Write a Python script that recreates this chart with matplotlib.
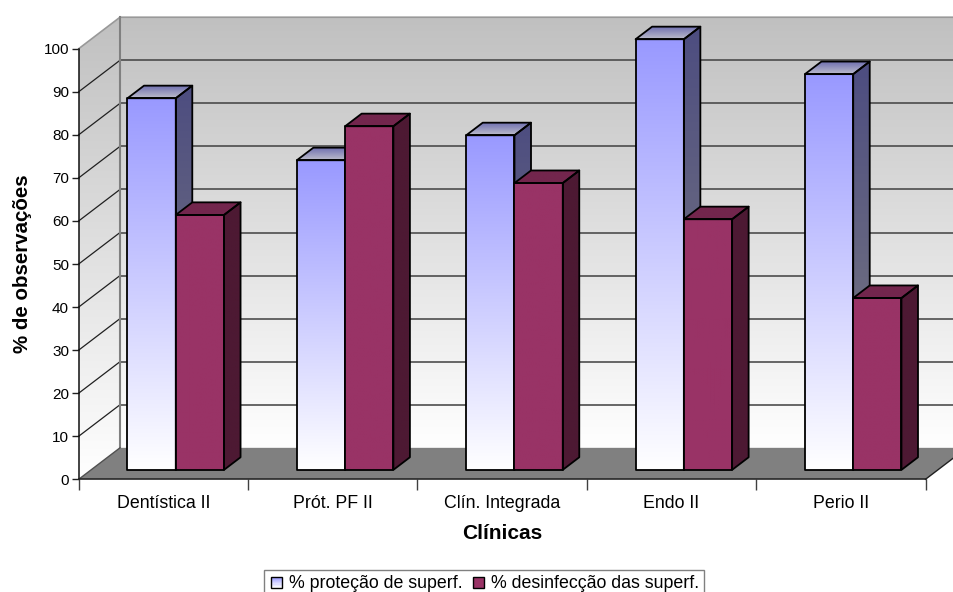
#!/usr/bin/env python3
# coding=utf-8

import numpy as np
from matplotlib import pyplot as plt
from matplotlib.colors import LinearSegmentedColormap
from matplotlib.legend_handler import HandlerPatch
from matplotlib.patches import Patch, Polygon, Rectangle

clinicas = ["Dentística II", "Prót. PF II", "Clín. Integrada", "Endo II", "Perio II"]
protecao = [86.3, 71.9, 77.7, 100.0, 91.9]
desinfeccao = [59.2, 79.8, 66.6, 58.2, 39.9]
nomes_series = ["% proteção de superf.", "% desinfecção das superf."]
y_ticks = list(range(0, 101, 10))

# Oblique projection: how far the back wall sits from the front plane, in data units
DEPTH_X = 0.2438
DEPTH_Y = 7.31
BAR_WIDTH = 0.285
BAR_START = 0.215
BAR_FRONT = 0.3
BAR_BACK = 0.7

plt.rcParams["font.family"] = ["Liberation Sans", "DejaVu Sans"]

WIDTH, HEIGHT = 954, 592


def project(x, y, depth):
    return x + depth * DEPTH_X, y + depth * DEPTH_Y


def gradient_face(ax, points, top, bottom, zorder):
    """Fill a polygon with a vertical gradient, clipped to the polygon."""
    xs = [p[0] for p in points]
    ys = [p[1] for p in points]
    cmap = LinearSegmentedColormap.from_list("face", [bottom, top])
    im = ax.imshow(np.linspace(1, 0, 256).reshape(-1, 1), cmap=cmap, vmin=0, vmax=1,
                   extent=(min(xs), max(xs), min(ys), max(ys)), aspect="auto",
                   interpolation="bilinear", zorder=zorder)
    clip = Polygon(points, closed=True, transform=ax.transData)
    im.set_clip_box(ax.figure.bbox)
    im.set_clip_path(clip)


def draw_bar(ax, x, value, colors, zorder):
    x0, x1 = x, x + BAR_WIDTH
    front = [project(x0, 0, BAR_FRONT), project(x1, 0, BAR_FRONT),
             project(x1, value, BAR_FRONT), project(x0, value, BAR_FRONT)]
    side = [project(x1, 0, BAR_FRONT), project(x1, 0, BAR_BACK),
            project(x1, value, BAR_BACK), project(x1, value, BAR_FRONT)]
    top = [project(x0, value, BAR_FRONT), project(x1, value, BAR_FRONT),
           project(x1, value, BAR_BACK), project(x0, value, BAR_BACK)]
    gradient_face(ax, front, colors["front"][0], colors["front"][1], zorder)
    gradient_face(ax, side, colors["side"][0], colors["side"][1], zorder)
    gradient_face(ax, top, colors["top"][0], colors["top"][1], zorder)
    for face in (front, side, top):
        ax.add_patch(Polygon(face, closed=True, facecolor="none", edgecolor="black",
                             linewidth=1.3, joinstyle="round", clip_on=False, zorder=zorder))


class GradientHandler(HandlerPatch):
    """Legend key drawn as stacked strips so the gradient shows in the swatch."""

    def create_artists(self, legend, orig_handle, xdescent, ydescent, width, height, fontsize, trans):
        size = height * 0.9
        x0 = -xdescent + (width - size) / 2
        y0 = -ydescent - 0.3
        cmap = LinearSegmentedColormap.from_list("key", [orig_handle.get_facecolor(), orig_handle.get_edgecolor()])
        artists = []
        strips = 10
        for i in range(strips):
            r = Rectangle((x0, y0 + size * (strips - 1 - i) / strips), size, size / strips,
                          facecolor=cmap(i / (strips - 1)), edgecolor="none", transform=trans)
            artists.append(r)
        artists.append(Rectangle((x0, y0), size, size, facecolor="none", edgecolor="black",
                                 linewidth=1.0, transform=trans))
        return artists


def main():
    fig = plt.figure(figsize=(WIDTH / 100, HEIGHT / 100), dpi=100)
    ax = fig.add_axes([78.7 / WIDTH, 1 - 479.3 / HEIGHT, (925.5 - 78.7) / WIDTH, (479.3 - 48.7) / HEIGHT])
    ax.patch.set_visible(False)

    n = len(clinicas)
    top_y = y_ticks[-1]

    # Back wall, side wall and floor
    back = [project(0, 0, 1), project(n, 0, 1), project(n, top_y, 1), project(0, top_y, 1)]
    left = [(0, 0), project(0, 0, 1), project(0, top_y, 1), (0, top_y)]
    floor = [(0, 0), (n, 0), project(n, 0, 1), project(0, 0, 1)]
    gradient_face(ax, back, "#c0c0c0", "#ffffff", 1)
    gradient_face(ax, left, "#c0c0c0", "#ffffff", 1)
    ax.add_patch(Polygon(floor, closed=True, facecolor="#808080", edgecolor="none", clip_on=False, zorder=2))

    for v in y_ticks[1:-1]:
        bx, by = project(0, v, 1)
        ex, ey = project(n, v, 1)
        ax.plot([bx, ex], [by, ey], color="#404040", lw=1.1, clip_on=False, zorder=2)
        ax.plot([0, bx], [v, by], color="#202020", lw=0.9, clip_on=False, zorder=2)

    # Wall outlines
    bx, by = project(0, top_y, 1)
    ex, ey = project(n, top_y, 1)
    ax.plot([0, bx, ex], [top_y, by, ey], color="#999999", lw=1.2, clip_on=False, zorder=2)
    fx, fy = project(0, 0, 1)
    ax.plot([fx, bx], [fy, by], color="#808080", lw=1.5, clip_on=False, zorder=2)
    ax.plot([0, fx], [0, fy], color="#505050", lw=1.0, clip_on=False, zorder=2)
    rx, ry = project(n, 0, 1)
    ax.plot([n, rx], [0, ry], color="#202020", lw=1.0, clip_on=False, zorder=2)

    blue = {"front": ("#9999ff", "#ffffff"), "side": ("#4d4d80", "#808080"), "top": ("#6c6cb0", "#bcbcca")}
    maroon = {"front": ("#993366", "#993366"), "side": ("#4d1933", "#4d1933"), "top": ("#73264d", "#73264d")}

    zorder = 3
    for i in range(n):
        draw_bar(ax, i + BAR_START, protecao[i], blue, zorder)
        draw_bar(ax, i + BAR_START + BAR_WIDTH, desinfeccao[i], maroon, zorder + 1)
        zorder += 2

    ax.set_xlim(0, n)
    ax.set_ylim(0, top_y)

    ax.set_yticks(y_ticks)
    ax.tick_params(axis="y", length=5, width=1, color="#202020", labelsize=11, pad=2, labelcolor="black")
    ax.set_xticks(np.arange(n + 1))
    ax.set_xticklabels([])
    ax.set_xticks(np.arange(n) + 0.5, minor=True)
    ax.set_xticklabels(clinicas, minor=True)
    ax.tick_params(axis="x", which="major", length=8, width=1, color="#404040")
    ax.tick_params(axis="x", which="minor", length=0, labelsize=12.8, pad=11)

    for name in ("top", "right"):
        ax.spines[name].set_visible(False)
    ax.spines["left"].set_color("#101010")
    ax.spines["bottom"].set_color("#202020")
    ax.spines["left"].set_linewidth(1.1)
    ax.spines["bottom"].set_linewidth(1.1)
    for spine in ax.spines.values():
        spine.set_zorder(30)

    ax.set_xlabel("Clínicas", fontsize=15, fontweight="bold", labelpad=9)
    ax.set_ylabel("% de observações", fontsize=14.8, fontweight="bold", labelpad=8)

    handles = [Patch(facecolor="#9999ff", edgecolor="#ffffff"), Patch(facecolor="#993366", edgecolor="#993366")]
    legend = fig.legend(handles, nomes_series, loc="lower center", bbox_to_anchor=(484 / WIDTH, -4 / HEIGHT), ncol=2,
                        fontsize=12.8, frameon=True, fancybox=False, framealpha=1, edgecolor="#808080",
                        borderpad=0.25, handlelength=0.9, handletextpad=0.25, columnspacing=0.45,
                        borderaxespad=0, handler_map={Patch: GradientHandler()})
    legend.get_frame().set_linewidth(1.0)

    fig.savefig("out.png", dpi=100)


if __name__ == "__main__":
    main()
